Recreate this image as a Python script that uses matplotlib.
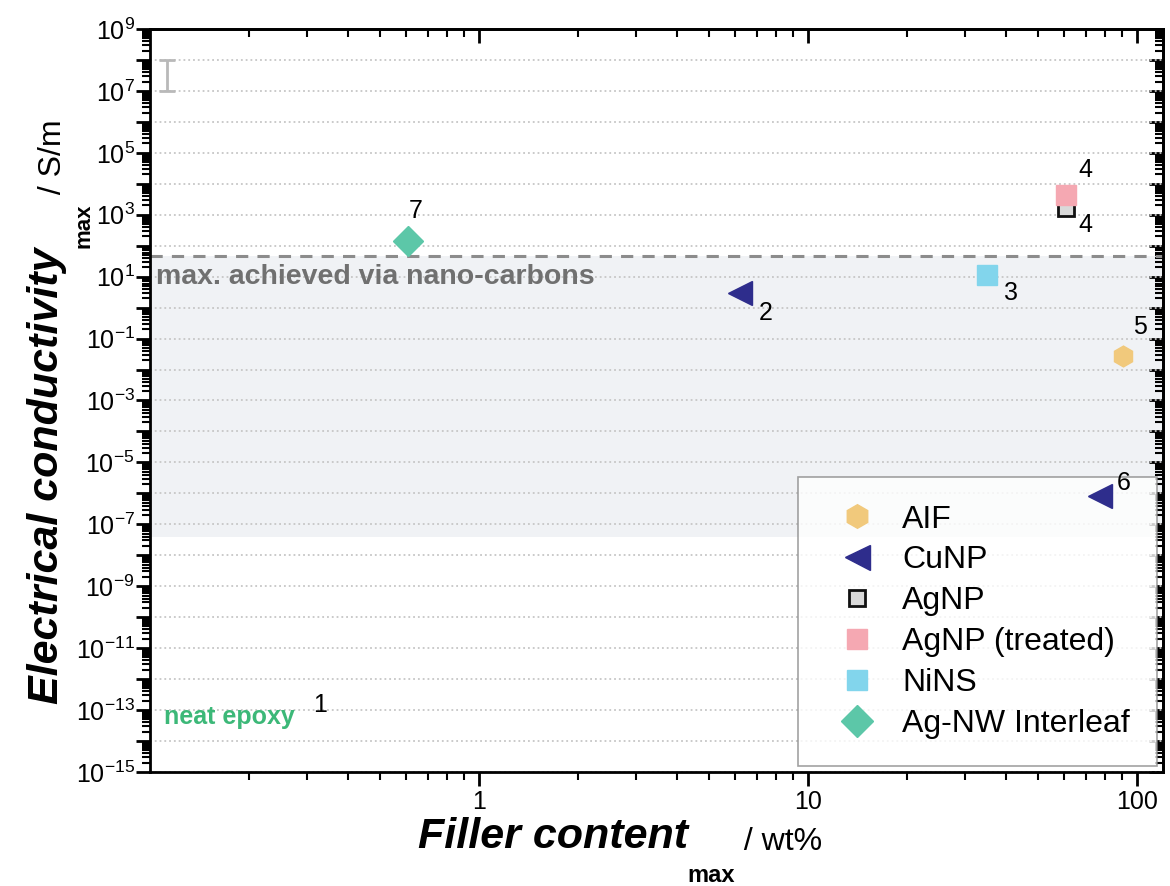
import matplotlib
matplotlib.use("Agg")
import matplotlib.pyplot as plt
import numpy as np
from matplotlib.ticker import FixedLocator, LogLocator, NullFormatter, FuncFormatter
from matplotlib.lines import Line2D

plt.rcParams["font.family"] = ["Liberation Sans", "DejaVu Sans"]
plt.rcParams["mathtext.default"] = "regular"

# data (filler content in wt%, conductivity in S/m)
series = ["AIF", "CuNP", "AgNP", "AgNP (treated)", "NiNS", "Ag-NW Interleaf"]
colors = ["#f1c97c", "#2e2d8c", "#d9d9d9", "#f5a8b2", "#82d5ec", "#5cc7a8"]
edges = ["#f1c97c", "#2e2d8c", "#111111", "#f5a8b2", "#82d5ec", "#5cc7a8"]
markers = ["h", "<", "s", "s", "s", "D"]
sizes = [15, 17, 12, 14, 14, 15]
x_vals = [[91.0], [6.2, 77.0], [61.0], [61.0], [35.0], [0.61]]
y_vals = [[0.028], [2.9, 8.3e-7], [1600.0], [4300.0], [11.7], [138.0]]
ref_nums = [["5"], ["2", "6"], ["4"], ["4"], ["3"], ["7"]]
ref_offsets = [[(12, 21)], [(19, -14), (17, 9)], [(14, -12)], [(14, 18)], [(17, -13)], [(5, 22)]]

nano_max = 45.0          # dashed line, best nano-carbon result
nano_band = (4e-8, 45.0)  # shaded range of nano-carbon results
metal_x = 0.113
metal_range = (1e7, 1e8)

fig = plt.figure(figsize=(11.7, 8.86), dpi=100)
ax = fig.add_axes([0.1282, 0.1287, 0.8658, 0.8386])
ax.set_xscale("log")
ax.set_yscale("log")
ax.set_xlim(0.1, 120)
ax.set_ylim(1e-15, 1e9)

ax.axhspan(*nano_band, color="#f0f2f5", zorder=0, lw=0)
ax.axhline(nano_max, color="#8c8c8c", lw=2.2, ls=(0, (4, 3)), zorder=1)
ax.text(0.104, 10, "max. achieved via nano-carbons", color="#707070",
        fontsize=20.5, fontweight="bold", va="center", ha="left")

mid = np.sqrt(metal_range[0] * metal_range[1])
ax.errorbar([metal_x], [mid], yerr=[[mid - metal_range[0]], [metal_range[1] - mid]],
            fmt="none", ecolor="#b9b9b9", elinewidth=2, capsize=6, capthick=2)

for i, name in enumerate(series):
    ax.plot(x_vals[i], y_vals[i], ls="none", marker=markers[i], ms=sizes[i],
            mfc=colors[i], mec=edges[i], mew=2 if name == "AgNP" else 1, zorder=3)
    for xv, yv, num, off in zip(x_vals[i], y_vals[i], ref_nums[i], ref_offsets[i]):
        ax.annotate(num, (xv, yv), xytext=off, textcoords="offset points",
                    fontsize=18, ha="center", va="center", zorder=4)

ax.text(0.11, 5.9e-14, "neat epoxy", color="#3cb878", fontsize=18,
        fontweight="bold", va="center", ha="left")
ax.text(0.328, 1.5e-13, "1", fontsize=18, va="center", ha="center")

# axes styling
for s in ax.spines.values():
    s.set_linewidth(2)
ax.yaxis.set_major_locator(FixedLocator(10.0 ** np.arange(-15, 10)))
ax.yaxis.set_major_formatter(FuncFormatter(
    lambda v, p: f"$10^{{{int(round(np.log10(v)))}}}$" if int(round(np.log10(v))) % 2 else ""))
ax.yaxis.set_minor_locator(LogLocator(base=10, subs=np.arange(2, 10), numticks=100))
ax.yaxis.set_minor_formatter(NullFormatter())
ax.xaxis.set_major_locator(FixedLocator([1, 10, 100]))
ax.xaxis.set_major_formatter(FuncFormatter(lambda v, p: f"{v:g}"))
ax.xaxis.set_minor_locator(LogLocator(base=10, subs=np.arange(2, 10), numticks=100))
ax.xaxis.set_minor_formatter(NullFormatter())
ax.tick_params(which="major", length=10, width=2, labelsize=18, direction="out", pad=1)
ax.tick_params(axis="x", which="major", pad=3)
ax.tick_params(which="minor", length=6, width=1.5, direction="out")
ax.yaxis.grid(True, which="major", ls=":", color="#c6c6c6", lw=1.3)

sec_x = ax.secondary_xaxis("top")
sec_x.xaxis.set_major_locator(FixedLocator([1, 10, 100]))
sec_x.xaxis.set_minor_locator(LogLocator(base=10, subs=np.arange(2, 10), numticks=100))
sec_x.tick_params(which="major", direction="in", length=10, width=2, labeltop=False)
sec_x.tick_params(which="minor", direction="in", length=6, width=1.5)
sec_x.spines["top"].set_linewidth(2)
sec_y = ax.secondary_yaxis("right")
sec_y.yaxis.set_major_locator(FixedLocator(10.0 ** np.arange(-15, 10)))
sec_y.yaxis.set_minor_locator(LogLocator(base=10, subs=np.arange(2, 10), numticks=100))
sec_y.tick_params(which="major", direction="in", length=10, width=2, labelright=False)
sec_y.tick_params(which="minor", direction="in", length=6, width=1.5)
sec_y.spines["right"].set_linewidth(2)

leg_sizes = [17, 18, 11, 15, 15, 16]
handles = [Line2D([], [], ls="none", marker=markers[i], ms=leg_sizes[i],
                  mfc=colors[i], mec=edges[i], mew=2 if series[i] == "AgNP" else 1)
           for i in range(len(series))]
leg = ax.legend(handles, series, loc="lower right", bbox_to_anchor=(0.994, 0.008),
                fontsize=23, frameon=True, fancybox=False, edgecolor="#8a8a8a",
                labelspacing=0.34, handletextpad=0.4, handlelength=2.0,
                borderpad=0.85, borderaxespad=0)
leg.get_frame().set_linewidth(1.2)
leg.set_zorder(2)

# axis titles built from pieces (bold italic + subscript + unit)
xl = fig.text(0.357, 0.043, "Filler content", fontsize=31, fontweight="bold",
              style="italic", ha="left", va="baseline")
xs = ax.annotate("max", xy=(1, 0), xycoords=xl, xytext=(0, -5), textcoords="offset points",
                 fontsize=17, fontweight="bold", ha="left", va="top", annotation_clip=False)
ax.annotate(" / wt%", xy=(1, 0), xycoords=(xs, xl), xytext=(0, 0), textcoords="offset points",
            fontsize=23, ha="left", va="bottom", annotation_clip=False)

yl = fig.text(0.023, 0.205, "Electrical conductivity", fontsize=31, fontweight="bold",
              style="italic", rotation=90, ha="left", va="bottom")
ys = ax.annotate("max", xy=(1, 1), xycoords=yl, xytext=(5, 0), textcoords="offset points",
                 fontsize=16, fontweight="bold", rotation=90, ha="left", va="bottom",
                 annotation_clip=False)
ax.annotate(" / S/m", xy=(0.0, 1), xycoords=(yl, ys), xytext=(8, 0), textcoords="offset points",
            fontsize=23, rotation=90, ha="left", va="bottom", annotation_clip=False)

fig.savefig("out.png", dpi=100)
